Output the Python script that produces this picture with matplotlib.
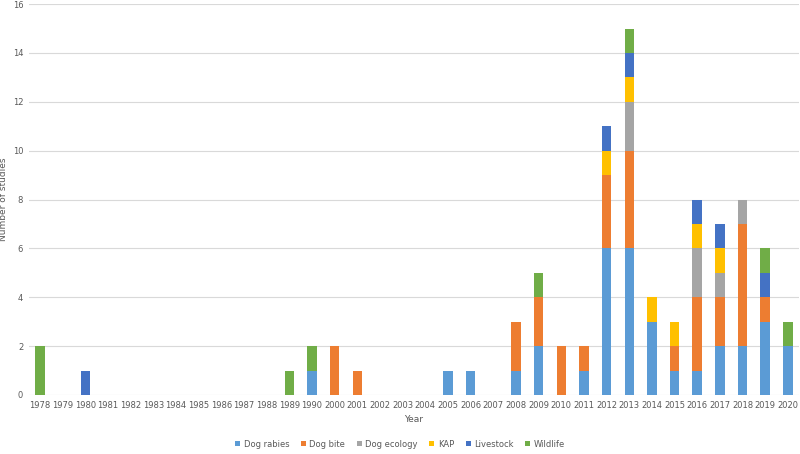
import matplotlib
matplotlib.use("Agg")
import matplotlib.pyplot as plt
import numpy as np

# Years with studies (1991-1999 absent in the original axis)
years = ["1978", "1979", "1980", "1981", "1982", "1983", "1984", "1985", "1986",
         "1987", "1988", "1989", "1990", "2000", "2001", "2002", "2003", "2004",
         "2005", "2006", "2007", "2008", "2009", "2010", "2011", "2012", "2013",
         "2014", "2015", "2016", "2017", "2018", "2019", "2020"]

dog_rabies  = [0, 0, 0, 0, 0, 0, 0, 0, 0, 0, 0, 0, 1, 0, 0, 0, 0, 0, 1, 1, 0, 1, 2, 0, 1, 6, 6, 3, 1, 1, 2, 2, 3, 2]
dog_bite    = [0, 0, 0, 0, 0, 0, 0, 0, 0, 0, 0, 0, 0, 2, 1, 0, 0, 0, 0, 0, 0, 2, 2, 2, 1, 3, 4, 0, 1, 3, 2, 5, 1, 0]
dog_ecology = [0, 0, 0, 0, 0, 0, 0, 0, 0, 0, 0, 0, 0, 0, 0, 0, 0, 0, 0, 0, 0, 0, 0, 0, 0, 0, 2, 0, 0, 2, 1, 1, 0, 0]
kap         = [0, 0, 0, 0, 0, 0, 0, 0, 0, 0, 0, 0, 0, 0, 0, 0, 0, 0, 0, 0, 0, 0, 0, 0, 0, 1, 1, 1, 1, 1, 1, 0, 0, 0]
livestock   = [0, 0, 1, 0, 0, 0, 0, 0, 0, 0, 0, 0, 0, 0, 0, 0, 0, 0, 0, 0, 0, 0, 0, 0, 0, 1, 1, 0, 0, 1, 1, 0, 1, 0]
wildlife    = [2, 0, 0, 0, 0, 0, 0, 0, 0, 0, 0, 1, 1, 0, 0, 0, 0, 0, 0, 0, 0, 0, 1, 0, 0, 0, 1, 0, 0, 0, 0, 0, 1, 1]

series = [("Dog rabies", dog_rabies, "#5B9BD5"),
          ("Dog bite", dog_bite, "#ED7D31"),
          ("Dog ecology", dog_ecology, "#A5A5A5"),
          ("KAP", kap, "#FFC000"),
          ("Livestock", livestock, "#4472C4"),
          ("Wildlife", wildlife, "#70AD47")]

text_col = "#595959"
fig = plt.figure(figsize=(8, 4.54), dpi=100)
ax = fig.add_axes([0.036, 0.130, 0.963, 0.861])

x = np.arange(len(years))
bottom = np.zeros(len(years))
for name, vals, col in series:
    vals = np.array(vals)
    ax.bar(x, vals, width=0.42, bottom=bottom, color=col, label=name, zorder=3)
    bottom += vals

ax.set_xlim(-0.5, len(years) - 0.5)
ax.set_ylim(0, 16)
ax.set_yticks(range(0, 17, 2))
ax.set_xticks(x)
ax.set_xticklabels(years)
ax.grid(axis="y", color="#D9D9D9", linewidth=0.8, zorder=0)
for s in ax.spines.values():
    s.set_visible(False)
ax.tick_params(length=0, labelsize=6, colors=text_col, pad=4)

ax.set_xlabel("Year", fontsize=6.5, color=text_col, labelpad=4)
ax.set_ylabel("Number of studies", fontsize=6.5, color=text_col)
ax.yaxis.set_label_coords(-0.027, 0.5)

fig.legend(loc="lower center", bbox_to_anchor=(0.5, -0.005), ncol=6, frameon=False,
           fontsize=6, labelcolor=text_col, handlelength=0.6, handleheight=0.6,
           columnspacing=1.4, handletextpad=0.4)

fig.savefig("out.png", dpi=100)
